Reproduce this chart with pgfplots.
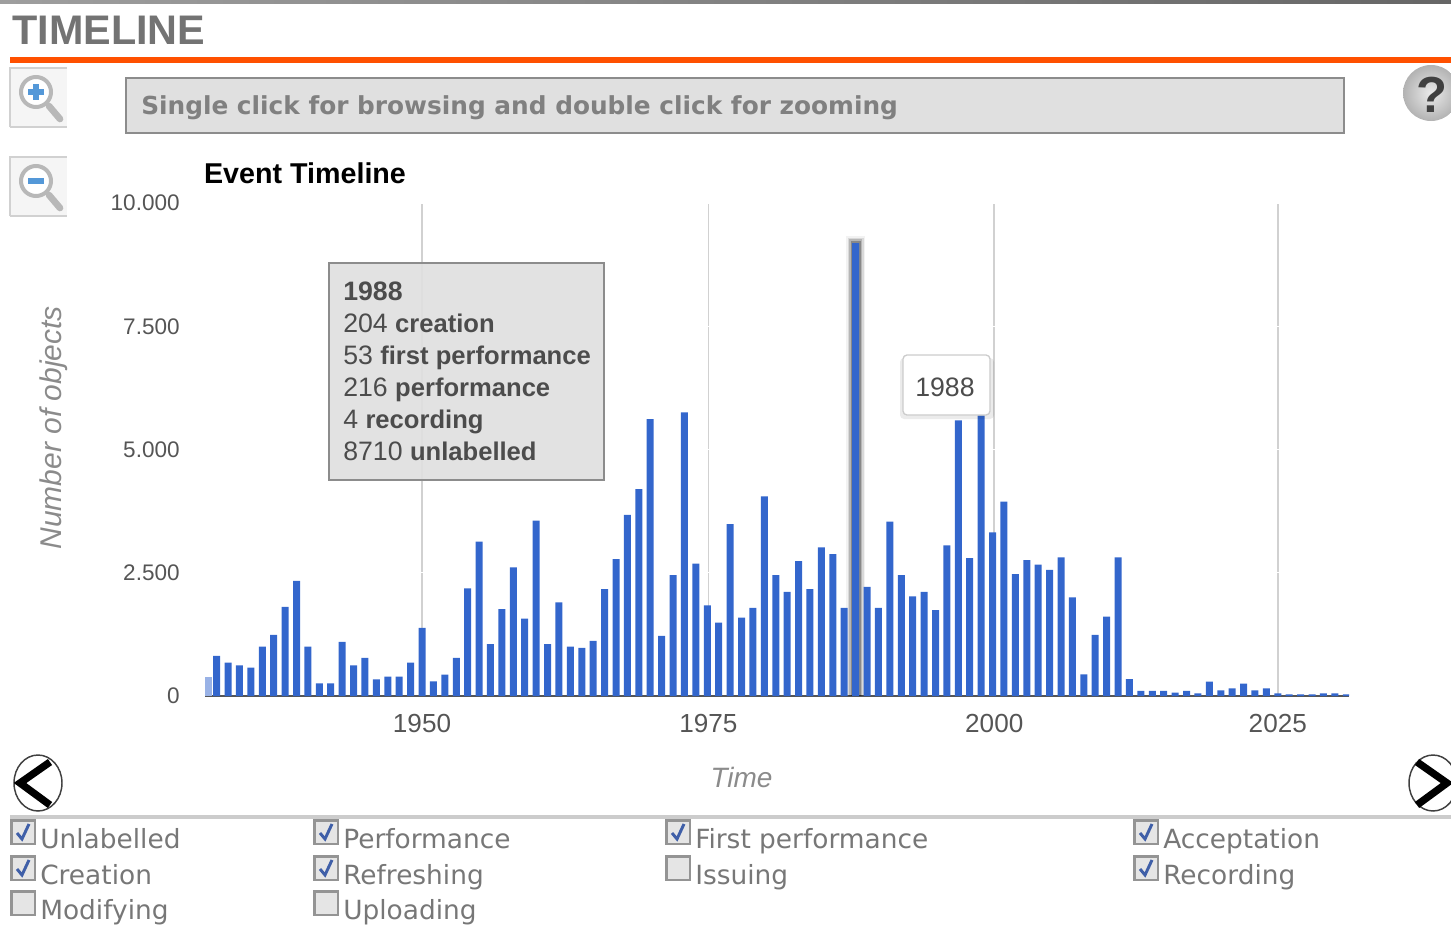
\documentclass[border=0pt]{standalone}
\usepackage{pgfplots}
\usepackage{fontspec}
\pgfplotsset{compat=1.18}
\setmainfont{Liberation Sans}
\newfontfamily\vf{DejaVu Sans}
\definecolor{barblue}{HTML}{3366CC}
\definecolor{ttip}{HTML}{E0E0E0}
\definecolor{boxedge}{HTML}{8C8C8C}
\definecolor{labelgray}{HTML}{777777}
\definecolor{tickgray}{HTML}{555555}
\definecolor{orangerule}{HTML}{FF5000}
\definecolor{checkblue}{HTML}{3F5FA8}
\newcommand{\fs}[1]{\fontsize{#1}{#1}\selectfont}
\newcommand{\bw}{\bfseries\fs{19.2pt}}
\newcommand{\chk}[4]{% x, y top, checked, label
  \draw[line width=1.7pt,draw=black!42,fill=black!10] (#1+1.5,#2+1.5) rectangle (#1+25,#2+25);
  \ifnum#3=1
    \draw[line width=2.2pt,draw=checkblue] (#1+7,#2+14) -- (#1+12,#2+20) -- (#1+19,#2+5);
  \fi
  \node[anchor=base west,inner sep=0pt,text=labelgray] at (#1+30,#2+29) {\vf\fs{19.8pt}#4};
}
\newcommand{\magn}[2]{% y top, plus?
  \fill[black!4] (10,#1) rectangle (67,#1+59);
  \draw[black!18,line width=.8pt] (10,#1+59) -- (10,#1) -- (67,#1);
  \draw[black!18,line width=.8pt] (10,#1+59) -- (67,#1+59);
  \draw[line width=3pt,black!28,fill=white] (36,#1+24) circle[radius=15];
  \draw[line width=5pt,black!28,line cap=round] (49,#1+38) -- (60,#1+51);
  \draw[line width=4pt,cyan!60!blue!70] (28,#1+24) -- (44,#1+24);
  \ifnum#2=1 \draw[line width=4pt,cyan!60!blue!70] (36,#1+16) -- (36,#1+32); \fi
}
\begin{document}
\begin{tikzpicture}
\begin{scope}[x=.75pt,y=-.75pt]
\useasboundingbox (0,0) rectangle (1451,931);
\end{scope}
\begin{axis}[
  at={(153.75pt,-522pt)}, anchor=south west,
  scale only axis, width=858pt, height=369.75pt,
  xmin=1930.98, xmax=2031.24, ymin=0, ymax=10000,
  axis lines=left, axis line style={-},
  x axis line style={draw=tickgray,line width=1.8pt},
  y axis line style={draw=none},
  major tick length=0pt,
  scaled y ticks=false,
  xtick={1950,1975.1,2000.15,2025},
  xticklabels={1950,1975,2000,2025},
  ytick={0,2500,5000,7500,10000},
  yticklabels={0,{2.500},{5.000},{7.500},{10.000}},
  xmajorgrids, ymajorgrids,
  x grid style={draw=black!18,line width=1.3pt},
  y grid style={draw=white,line width=.9pt},
  x tick label style={font=\fs{19.6pt},text=tickgray,yshift=-10.5pt},
  y tick label style={font=\fs{16.9pt},text=tickgray,xshift=-15.5pt},
  title={\bfseries Event Timeline},
  every axis title/.style={at={(rel axis cs:-0.001,1.061)},anchor=west,inner sep=0pt,font=\fs{21.5pt},text=black},
  xlabel={Time},
  every axis x label/.style={at={(rel axis cs:0.469,-0.166)},anchor=center,inner sep=0pt,font=\itshape\fs{21pt},text=labelgray!85},
  ylabel={Number of objects},
  every axis y label/.style={at={(rel axis cs:-0.132,0.544)},anchor=center,rotate=90,inner sep=0pt,font=\itshape\fs{22.5pt},text=labelgray!85},
]
\addplot[ybar,bar shift=0pt,bar width=14.25pt,fill=black,opacity=.05,draw=none] coordinates {(1988,9340)};
\addplot[ybar,bar shift=0pt,bar width=12pt,fill=black,opacity=.1,draw=none] coordinates {(1988,9300)};
\addplot[ybar,bar shift=0pt,bar width=9.75pt,fill=black,opacity=.16,draw=none] coordinates {(1988,9260)};
\addplot[ybar,bar shift=0pt,bar width=7.5pt,fill=black,opacity=.25,draw=none] coordinates {(1988,9220)};
\addplot[ybar,bar shift=0pt,bar width=5.25pt,fill=barblue!50,draw=none] coordinates {(1931.3,386)};
\addplot[ybar,bar shift=0pt,bar width=5.25pt,fill=barblue,draw=none] coordinates {
(1932,813)(1933,678)(1934,623)(1935,576)(1936,1003)(1937,1240)(1938,1809)(1939,2337)
(1940,1003)(1941,257)(1942,257)(1943,1098)(1944,623)(1945,772)(1946,339)(1947,393)
(1948,393)(1949,678)(1950,1382)(1951,298)(1952,434)(1953,772)(1954,2181)(1955,3130)
(1956,1050)(1957,1761)(1958,2608)(1959,1572)(1960,3557)(1961,1050)(1962,1897)(1963,1003)
(1964,976)(1965,1118)(1966,2168)(1967,2778)(1968,3672)(1969,4194)(1970,5617)(1971,1220)
(1972,2453)(1973,5752)(1974,2683)(1975,1836)(1976,1490)(1977,3489)(1978,1592)(1979,1789)
(1980,4051)(1981,2453)(1982,2114)(1983,2737)(1984,2168)(1985,3015)(1986,2879)(1987,1789)
(1988,9187)(1989,2215)(1990,1789)(1991,3537)(1992,2453)(1993,2019)(1994,2114)(1995,1741)
(1996,3055)(1997,5589)(1998,2798)(1999,5691)(2000,3320)(2001,3943)(2002,2473)(2003,2757)
(2004,2663)(2005,2561)(2006,2812)(2007,1999)(2008,440)(2009,1240)(2010,1612)(2011,2812)
(2012,345)(2013,102)(2014,102)(2015,102)(2016,68)(2017,102)(2018,54)(2019,291)
(2020,115)(2021,156)(2022,250)(2023,115)(2024,156)(2025,54)(2026,34)(2027,34)
(2028,34)(2029,54)(2030,54)(2031,34)};
\end{axis}
\begin{scope}[x=.75pt,y=-.75pt]
\clip (0,0) rectangle (1451,931);
% top strip and heading
\shade[left color=black!38,right color=black!60] (0,0) rectangle (1451,4);
\node[anchor=base west,inner sep=0pt,text=black!55] at (12,45) {\bfseries\fs{31pt}TIMELINE};
\fill[orangerule] (10,57) rectangle (1451,63);
% zoom buttons
\magn{68}{1}
\magn{157}{0}
% instruction
\draw[draw=boxedge,line width=1.5pt,fill=ttip] (126,78) rectangle (1344,133);
\node[anchor=base west,inner sep=0pt,text=black!50] at (141,114) {\vf\bfseries\fs{18.6pt}Single click for browsing and double click for zooming};
% help
\shade[inner color=black!8,outer color=black!30] (1431,93) circle[radius=28];
\node[inner sep=0pt,text=black!75] at (1432,95) {\bfseries\fs{38pt}?};
% tooltip
\draw[draw=boxedge,line width=1.5pt,fill=ttip,fill opacity=.93] (329,263) rectangle (604,480);
\foreach \yy/\tt in {300/{\bfseries 1988},332/{204 {\bw creation}},364/{53 {\bw first performance}},396/{216 {\bw performance}},428/{4 {\bw recording}},460/{8710 {\bw unlabelled}}}{
  \node[anchor=base west,inner sep=0pt,text=black!70] at (343,\yy) {\fs{20pt}\tt};
}
\fill[black,opacity=.08,rounded corners=3pt] (900,358) rectangle (994,419);
\draw[draw=black!20,line width=1pt,fill=white,rounded corners=3pt] (903,355) rectangle (990,415);
\node[anchor=base west,inner sep=0pt,text=black!70] at (915,396) {\fs{20pt}1988};
% arrows
\draw[line width=1.1pt,black!75] (38,783) ellipse[x radius=24,y radius=28];
\draw[line width=5.5pt,black] (50,762) -- (20,783) -- (50,805);
\draw[line width=1.1pt,black!75] (1433,783) ellipse[x radius=24,y radius=28];
\draw[line width=5.5pt,black] (1417,762) -- (1447,783) -- (1417,805);
% rule
\fill[black!20] (10,815) rectangle (1451,819);
% checkboxes
\chk{10}{819}{1}{Unlabelled}
\chk{10}{855}{1}{Creation}
\chk{10}{890}{0}{Modifying}
\chk{313}{819}{1}{Performance}
\chk{313}{855}{1}{Refreshing}
\chk{313}{890}{0}{Uploading}
\chk{665}{819}{1}{First performance}
\chk{665}{855}{0}{Issuing}
\chk{1133}{819}{1}{Acceptation}
\chk{1133}{855}{1}{Recording}
\end{scope}
\end{tikzpicture}
\end{document}
